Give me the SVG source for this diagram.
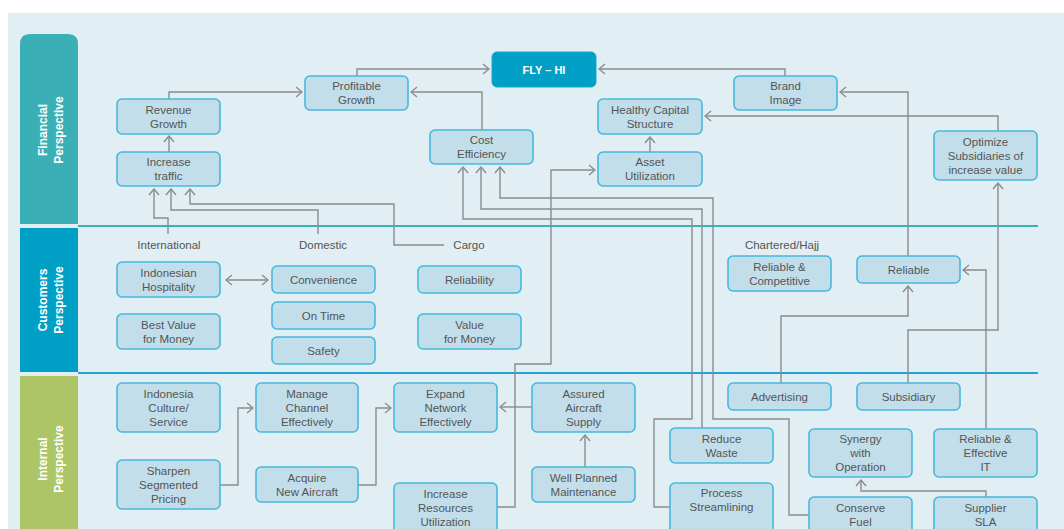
<svg xmlns="http://www.w3.org/2000/svg" width="1064" height="529" viewBox="0 0 1064 529">
<style>
.n rect{fill:#c2deea;stroke:#46b8dc;stroke-width:1.6}
.t{font-family:"Liberation Sans",Arial,sans-serif;font-size:11.5px;fill:#555;text-anchor:middle}
.s{font-family:"Liberation Sans",Arial,sans-serif;font-size:12px;font-weight:bold;fill:#fff;text-anchor:middle}
.c path{fill:none;stroke:#8c8c8c;stroke-width:1.4}
.a{marker-end:url(#arr)}
</style>
<defs>
<marker id="arr" viewBox="0 0 12 12" markerWidth="12" markerHeight="12" refX="11" refY="6" orient="auto" markerUnits="userSpaceOnUse">
<path d="M5,1 L11,6 L5,11" fill="none" stroke="#8c8c8c" stroke-width="1.4"/>
</marker>
<marker id="arrs" viewBox="0 0 12 12" markerWidth="12" markerHeight="12" refX="11" refY="6" orient="auto-start-reverse" markerUnits="userSpaceOnUse">
<path d="M5,1 L11,6 L5,11" fill="none" stroke="#8c8c8c" stroke-width="1.4"/>
</marker>
</defs>
<rect x="0" y="0" width="1064" height="529" fill="#fff"/>
<rect x="8" y="13" width="1056" height="516" fill="#e1eef3"/>
<g id="bars">
<path d="M20,224 V44 Q20,34 30,34 H68 Q78,34 78,44 V224 Z" fill="#3aafb6"/>
<rect x="20" y="228" width="58" height="144" fill="#00a0c6"/>
<rect x="20" y="376" width="58" height="153" fill="#adc566"/>
<g transform="translate(50,130) rotate(-90)"><text class="s" y="-3.5">Financial</text><text class="s" y="12.5">Perspective</text></g>
<g transform="translate(50,300) rotate(-90)"><text class="s" y="-3.5">Customers</text><text class="s" y="12.5">Perspective</text></g>
<g transform="translate(50,459) rotate(-90)"><text class="s" y="-3.5">Internal</text><text class="s" y="12.5">Perspective</text></g>
</g>
<line x1="78" y1="226" x2="1038" y2="226" stroke="#3ab0b9" stroke-width="2"/>
<line x1="78" y1="373" x2="1038" y2="373" stroke="#1ea3d3" stroke-width="2"/>
<g id="labels">
<text class="t" x="169" y="249">International</text>
<text class="t" x="323" y="249">Domestic</text>
<text class="t" x="469" y="249">Cargo</text>
<text class="t" x="782" y="249">Chartered/Hajj</text>
</g>
<g class="c" id="connectors">
<path class="a" d="M169,99 V92 H302"/>
<path class="a" d="M169,152 V136"/>
<path class="a" d="M168,234 V218 H154 V189"/>
<path class="a" d="M318,234 V210 H171 V189"/>
<path class="a" d="M444,245 H394 V204 H190 V189"/>
<path class="a" d="M357,76 V69 H489"/>
<path class="a" d="M482,130 V92 H411"/>
<path class="a" d="M785,76 V69 H599"/>
<path class="a" d="M650,152 V137"/>
<path class="a" d="M998,131 V116 H705"/>
<path class="a" d="M908,256 V92 H840"/>
<path class="a" d="M908,383 V330 H998 V183"/>
<path class="a" d="M781,383 V316 H908 V286"/>
<path class="a" d="M986,429 V270 H963"/>
<path class="a" d="M986,497 V491 H861 V480"/>
<path class="a" d="M670,507 H654 V419 H692 V219 H463 V167"/>
<path class="a" d="M702,428 V209 H481 V167"/>
<path class="a" d="M809,515 H789 V419 H713 V198 H500 V167"/>
<path class="a" d="M497,507 H515 V364 H551 V170 H595"/>
<path class="a" d="M532,407 H500"/>
<path class="a" d="M585,467 V435"/>
<path class="a" d="M220,485 H238 V408 H253"/>
<path class="a" d="M358,485 H376 V408 H391"/>
<path d="M226,280 H268" marker-start="url(#arrs)" marker-end="url(#arr)"/>
</g>
<g id="rev" class="n"><rect x="117" y="99" width="103" height="35" rx="5"/><text class="t" x="168.5" y="113.5">Revenue</text><text class="t" x="168.5" y="127.5">Growth</text></g>
<g id="inc" class="n"><rect x="117" y="152" width="103" height="34" rx="5"/><text class="t" x="168.5" y="166">Increase</text><text class="t" x="168.5" y="180">traffic</text></g>
<g id="prof" class="n"><rect x="305" y="76" width="103" height="34" rx="5"/><text class="t" x="356.5" y="90">Profitable</text><text class="t" x="356.5" y="104">Growth</text></g>
<g id="fly"><rect x="492" y="52" width="104" height="35" rx="5" fill="#00a0c6" stroke="#1aa9cf" stroke-width="1"/><text x="544" y="73.5" font-family="Liberation Sans, Arial, sans-serif" font-size="11" font-weight="bold" fill="#fff" text-anchor="middle">FLY – HI</text></g>
<g id="cost" class="n"><rect x="430" y="130" width="103" height="34" rx="5"/><text class="t" x="481.5" y="144">Cost</text><text class="t" x="481.5" y="158">Efficiency</text></g>
<g id="hcs" class="n"><rect x="598" y="99" width="104" height="35" rx="5"/><text class="t" x="650" y="113.5">Healthy Capital</text><text class="t" x="650" y="127.5">Structure</text></g>
<g id="asset" class="n"><rect x="598" y="152" width="104" height="34" rx="5"/><text class="t" x="650" y="166">Asset</text><text class="t" x="650" y="180">Utilization</text></g>
<g id="brand" class="n"><rect x="734" y="76" width="103" height="34" rx="5"/><text class="t" x="785.5" y="90">Brand</text><text class="t" x="785.5" y="104">Image</text></g>
<g id="opt" class="n"><rect x="934" y="131" width="103" height="49" rx="5"/><text class="t" x="985.5" y="145.5">Optimize</text><text class="t" x="985.5" y="159.5">Subsidiaries of</text><text class="t" x="985.5" y="173.5">increase value</text></g>
<g id="hosp" class="n"><rect x="117" y="262" width="103" height="35" rx="5"/><text class="t" x="168.5" y="276.5">Indonesian</text><text class="t" x="168.5" y="290.5">Hospitality</text></g>
<g id="bestval" class="n"><rect x="117" y="314" width="103" height="35" rx="5"/><text class="t" x="168.5" y="328.5">Best Value</text><text class="t" x="168.5" y="342.5">for Money</text></g>
<g id="conv" class="n"><rect x="272" y="266" width="103" height="27" rx="5"/><text class="t" x="323.5" y="283.5">Convenience</text></g>
<g id="ontime" class="n"><rect x="272" y="302" width="103" height="27" rx="5"/><text class="t" x="323.5" y="319.5">On Time</text></g>
<g id="safety" class="n"><rect x="272" y="337" width="103" height="27" rx="5"/><text class="t" x="323.5" y="354.5">Safety</text></g>
<g id="reliab" class="n"><rect x="418" y="266" width="103" height="27" rx="5"/><text class="t" x="469.5" y="283.5">Reliability</text></g>
<g id="valmoney" class="n"><rect x="418" y="314" width="103" height="35" rx="5"/><text class="t" x="469.5" y="328.5">Value</text><text class="t" x="469.5" y="342.5">for Money</text></g>
<g id="relcomp" class="n"><rect x="728" y="256" width="103" height="35" rx="5"/><text class="t" x="779.5" y="270.5">Reliable &amp;</text><text class="t" x="779.5" y="284.5">Competitive</text></g>
<g id="reliable" class="n"><rect x="857" y="256" width="103" height="27" rx="5"/><text class="t" x="908.5" y="273.5">Reliable</text></g>
<g id="culture" class="n"><rect x="117" y="383" width="103" height="49" rx="5"/><text class="t" x="168.5" y="397.5">Indonesia</text><text class="t" x="168.5" y="411.5">Culture/</text><text class="t" x="168.5" y="425.5">Service</text></g>
<g id="sharpen" class="n"><rect x="117" y="460" width="103" height="49" rx="5"/><text class="t" x="168.5" y="474.5">Sharpen</text><text class="t" x="168.5" y="488.5">Segmented</text><text class="t" x="168.5" y="502.5">Pricing</text></g>
<g id="manage" class="n"><rect x="256" y="383" width="102" height="49" rx="5"/><text class="t" x="307" y="397.5">Manage</text><text class="t" x="307" y="411.5">Channel</text><text class="t" x="307" y="425.5">Effectively</text></g>
<g id="acquire" class="n"><rect x="256" y="467" width="102" height="35" rx="5"/><text class="t" x="307" y="481.5">Acquire</text><text class="t" x="307" y="495.5">New Aircraft</text></g>
<g id="expand" class="n"><rect x="394" y="383" width="103" height="49" rx="5"/><text class="t" x="445.5" y="397.5">Expand</text><text class="t" x="445.5" y="411.5">Network</text><text class="t" x="445.5" y="425.5">Effectively</text></g>
<g id="assured" class="n"><rect x="532" y="383" width="103" height="49" rx="5"/><text class="t" x="583.5" y="397.5">Assured</text><text class="t" x="583.5" y="411.5">Aircraft</text><text class="t" x="583.5" y="425.5">Supply</text></g>
<g id="wellplan" class="n"><rect x="532" y="467" width="103" height="35" rx="5"/><text class="t" x="583.5" y="481.5">Well Planned</text><text class="t" x="583.5" y="495.5">Maintenance</text></g>
<g id="iru" class="n"><rect x="394" y="483" width="103" height="55" rx="5"/><text class="t" x="445.5" y="498">Increase</text><text class="t" x="445.5" y="512">Resources</text><text class="t" x="445.5" y="526">Utilization</text></g>
<g id="reduce" class="n"><rect x="670" y="428" width="103" height="35" rx="5"/><text class="t" x="721.5" y="442.5">Reduce</text><text class="t" x="721.5" y="456.5">Waste</text></g>
<g id="process" class="n"><rect x="670" y="483" width="103" height="55" rx="5"/><text class="t" x="721.5" y="497">Process</text><text class="t" x="721.5" y="511">Streamlining</text></g>
<g id="advert" class="n"><rect x="728" y="383" width="103" height="27" rx="5"/><text class="t" x="779.5" y="400.5">Advertising</text></g>
<g id="subsid" class="n"><rect x="857" y="383" width="103" height="27" rx="5"/><text class="t" x="908.5" y="400.5">Subsidiary</text></g>
<g id="synergy" class="n"><rect x="809" y="429" width="103" height="48" rx="5"/><text class="t" x="860.5" y="443">Synergy</text><text class="t" x="860.5" y="457">with</text><text class="t" x="860.5" y="471">Operation</text></g>
<g id="relit" class="n"><rect x="934" y="429" width="103" height="48" rx="5"/><text class="t" x="985.5" y="443">Reliable &amp;</text><text class="t" x="985.5" y="457">Effective</text><text class="t" x="985.5" y="471">IT</text></g>
<g id="conserve" class="n"><rect x="809" y="497" width="103" height="45" rx="5"/><text class="t" x="860.5" y="512">Conserve</text><text class="t" x="860.5" y="526">Fuel</text></g>
<g id="supplier" class="n"><rect x="934" y="497" width="103" height="45" rx="5"/><text class="t" x="985.5" y="512">Supplier</text><text class="t" x="985.5" y="526">SLA</text></g>
</svg>
